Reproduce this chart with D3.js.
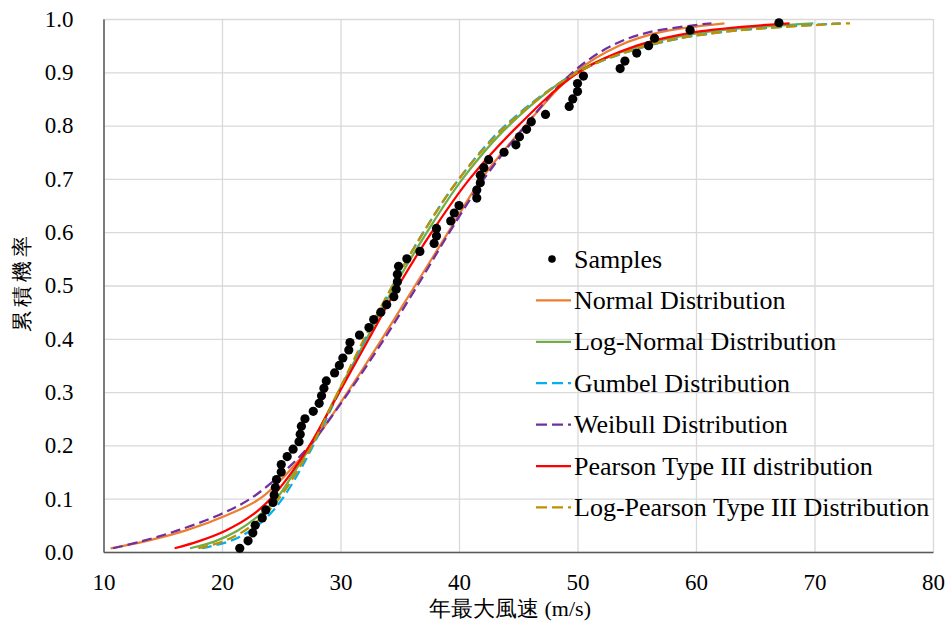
<!DOCTYPE html>
<html>
<head>
<meta charset="utf-8">
<script src="https://cdn.jsdelivr.net/npm/d3@7"></script>
<style>
  body { margin: 0; background: #fff; }
  text { font-family: "Liberation Serif", "Times New Roman", serif; fill: #000; }
</style>
</head>
<body>
<div id="chart"></div>
<script>
// sample points (annual maximum wind speed vs. plotting position)
var sampleX = [21.5, 22.2, 22.6, 22.8, 23.4, 23.7, 24.3, 24.4, 24.5, 24.6,
               25.0, 25.0, 25.5, 26.0, 26.5, 26.6, 26.7, 27.0, 27.7, 28.2,
               28.4, 28.6, 28.8, 29.5, 29.9, 30.2, 30.7, 30.8, 31.6, 32.4,
               32.8, 33.4, 33.9, 34.5, 34.7, 34.8, 34.8, 34.9, 35.6, 36.7,
               37.9, 38.1, 38.1, 39.3, 39.6, 40.0, 41.5, 41.5, 41.8, 41.8,
               42.1, 42.5, 43.8, 44.8, 45.1, 45.7, 46.1, 47.3, 49.3, 49.6,
               50.0, 50.0, 50.5, 53.6, 54.0, 55.0, 56.0, 56.5, 59.5, 67.0];
var sampleP = [0.007, 0.021, 0.036, 0.050, 0.064, 0.079, 0.093, 0.107, 0.121, 0.136,
               0.150, 0.164, 0.179, 0.193, 0.207, 0.221, 0.236, 0.250, 0.264, 0.279,
               0.293, 0.307, 0.321, 0.336, 0.350, 0.364, 0.379, 0.393, 0.407, 0.421,
               0.436, 0.450, 0.464, 0.479, 0.493, 0.507, 0.521, 0.536, 0.550, 0.564,
               0.579, 0.593, 0.607, 0.621, 0.636, 0.650, 0.664, 0.679, 0.693, 0.707,
               0.721, 0.736, 0.750, 0.764, 0.779, 0.793, 0.807, 0.821, 0.836, 0.850,
               0.864, 0.879, 0.893, 0.907, 0.921, 0.936, 0.950, 0.964, 0.979, 0.993];

// cumulative probabilities at which the fitted curves were read
var curveP = [0.007, 0.02, 0.04, 0.07, 0.1, 0.15, 0.2, 0.3, 0.4, 0.5,
              0.6, 0.7, 0.8, 0.9, 0.95, 0.975, 0.992];

// wind speed of each fitted curve at those probabilities
var normalX  = [10.6, 13.5, 16.9, 20.5, 23.2, 25.6, 27.5, 30.6, 33.5, 36.3, 39.1, 41.9, 45.6, 49.8, 53.5, 56.9, 62.4];
var lognormX = [17.3, 19.4, 21.3, 23.2, 24.6, 26.1, 27.5, 29.8, 32.2, 34.6, 37.3, 40.3, 44.2, 49.9, 55.3, 60.6, 69.9];
var gumbelX  = [18.3, 20.6, 22.4, 24.0, 25.1, 26.5, 27.7, 29.9, 32.1, 34.4, 37.0, 40.0, 43.9, 50.0, 56.0, 62.0, 72.2];
var weibullX = [10.8, 13.2, 16.2, 19.8, 22.4, 25.2, 27.4, 30.7, 33.7, 36.5, 39.2, 42.1, 45.6, 49.6, 52.9, 56.0, 61.3];
var pearsonX = [16.0, 18.0, 20.3, 22.6, 24.1, 25.9, 27.4, 29.9, 32.4, 34.9, 37.7, 40.9, 45.0, 50.1, 55.0, 59.8, 67.9];
var logPearsonX = [18.0, 20.1, 21.9, 23.6, 24.8, 26.3, 27.6, 29.8, 32.0, 34.4, 37.0, 40.0, 44.0, 50.0, 55.9, 62.0, 73.0];

var xTicks = [10, 20, 30, 40, 50, 60, 70, 80];
var yTicks = [0, 0.1, 0.2, 0.3, 0.4, 0.5, 0.6, 0.7, 0.8, 0.9, 1.0];

var series = [
  {name: "Normal Distribution", xs: normalX, color: "#ED7D31", dash: null},
  {name: "Log-Normal Distribution", xs: lognormX, color: "#70AD47", dash: null},
  {name: "Gumbel Distribution", xs: gumbelX, color: "#00B0F0", dash: "10,5"},
  {name: "Weibull Distribution", xs: weibullX, color: "#7030A0", dash: "10,5"},
  {name: "Pearson Type III distribution", xs: pearsonX, color: "#FF0000", dash: null},
  {name: "Log-Pearson Type III Distribution", xs: logPearsonX, color: "#BF9000", dash: "10,5"}
];

var W = 949, H = 625;
var margin = {top: 19, right: 16, bottom: 73, left: 103.5};
var width = W - margin.left - margin.right,
    height = H - margin.top - margin.bottom;

var svg = d3.select("#chart").append("svg")
    .attr("width", W).attr("height", H);
var g = svg.append("g")
    .attr("transform", "translate(" + margin.left + "," + margin.top + ")");

var x = d3.scaleLinear().domain([10, 80]).range([0, width]);
var y = d3.scaleLinear().domain([0, 1]).range([height, 0]);

// gridlines
g.append("g")
    .call(d3.axisLeft(y).tickValues(yTicks).tickSize(-width).tickFormat(""))
    .call(function(s) { s.select(".domain").remove(); })
    .selectAll("line").attr("stroke", "#d9d9d9").attr("stroke-width", 1.3);
g.append("g")
    .attr("transform", "translate(0," + height + ")")
    .call(d3.axisBottom(x).tickValues(xTicks).tickSize(-height).tickFormat(""))
    .call(function(s) { s.select(".domain").remove(); })
    .selectAll("line").attr("stroke", "#d9d9d9").attr("stroke-width", 1.3);

// axes
var yAxis = g.append("g")
    .call(d3.axisLeft(y).tickValues(yTicks).tickSize(0).tickPadding(30).tickFormat(d3.format(".1f")));
var xAxis = g.append("g")
    .attr("transform", "translate(0," + height + ")")
    .call(d3.axisBottom(x).tickValues(xTicks).tickSize(0).tickPadding(22));
[yAxis, xAxis].forEach(function(a) {
  a.select(".domain").attr("stroke", "#595959").attr("stroke-width", 1.5);
  a.selectAll("text").style("font-family", "'Liberation Serif', serif").style("font-size", "23px").attr("fill", "#000");
});

// fitted curves
series.forEach(function(s) {
  var pts = s.xs.map(function(v, i) { return [v, curveP[i]]; });
  var line = d3.line()
      .x(function(d) { return x(d[0]); })
      .y(function(d) { return y(d[1]); })
      .curve(d3.curveCatmullRom.alpha(0.5));
  g.append("path")
      .datum(pts)
      .attr("fill", "none")
      .attr("stroke", s.color)
      .attr("stroke-width", 2.25)
      .attr("stroke-dasharray", s.dash)
      .attr("d", line);
});

// samples
g.selectAll("circle.sample")
    .data(sampleX)
    .enter().append("circle")
    .attr("class", "sample")
    .attr("cx", function(d) { return x(d); })
    .attr("cy", function(d, i) { return y(sampleP[i]); })
    .attr("r", 4.6)
    .attr("fill", "#000");

// legend
var legend = svg.append("g").attr("transform", "translate(536,259)");
var rowH = 41.4;
legend.append("circle").attr("cx", 16).attr("cy", 0).attr("r", 3.8).attr("fill", "#000");
legend.append("text").attr("x", 38).attr("y", 0).attr("dy", "0.33em")
    .style("font-size", "26px").text("Samples");
series.forEach(function(s, i) {
  var yy = (i + 1) * rowH;
  legend.append("line")
      .attr("x1", 0).attr("x2", 35).attr("y1", yy).attr("y2", yy)
      .attr("stroke", s.color).attr("stroke-width", 2.25)
      .attr("stroke-dasharray", s.dash ? "11,5" : null);
  legend.append("text").attr("x", 38).attr("y", yy).attr("dy", "0.33em")
      .style("font-size", "26px").text(s.name);
});

// axis titles
svg.append("text")
    .attr("x", 510).attr("y", 616)
    .attr("text-anchor", "middle")
    .style("font-size", "22px")
    .text("年最大風速 (m/s)");
svg.append("text")
    .attr("transform", "translate(29,282) rotate(-90)")
    .attr("text-anchor", "middle")
    .style("font-size", "21px")
    .style("letter-spacing", "4px")
    .text("累積機率");
</script>
</body>
</html>
